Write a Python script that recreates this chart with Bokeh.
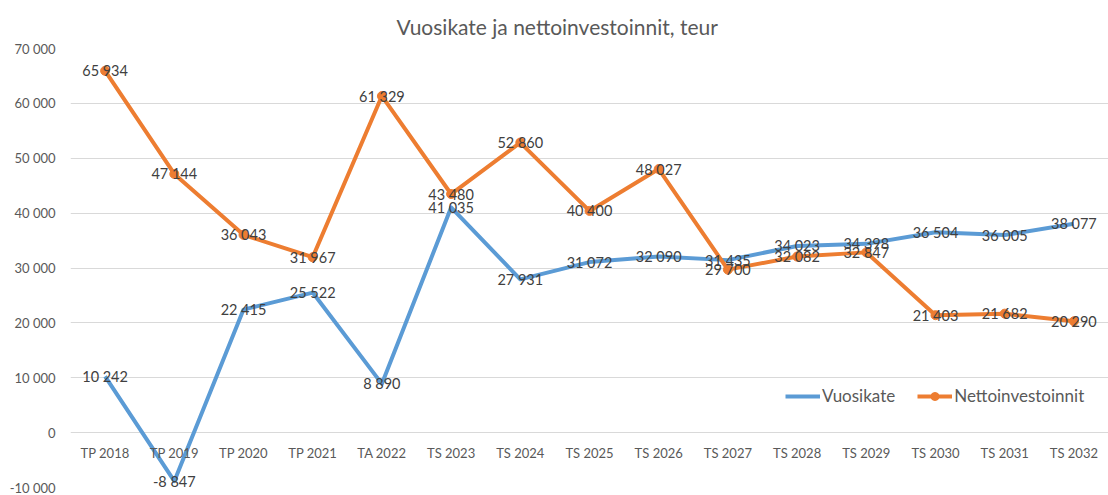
from bokeh.plotting import figure
from bokeh.models import ColumnDataSource, FactorRange, Range1d, FixedTicker, Legend, LegendItem
from bokeh.core.properties import value
from bokeh.embed import file_html
from bokeh.resources import INLINE

categories = ["TP 2018", "TP 2019", "TP 2020", "TP 2021", "TA 2022", "TS 2023", "TS 2024",
              "TS 2025", "TS 2026", "TS 2027", "TS 2028", "TS 2029", "TS 2030", "TS 2031", "TS 2032"]
vuosikate = [10242, -8847, 22415, 25522, 8890, 41035, 27931, 31072, 32090, 31435,
             34023, 34398, 36504, 36005, 38077]
nettoinvestoinnit = [65934, 47144, 36043, 31967, 61329, 43480, 52860, 40400, 48027, 29700,
                     32082, 32847, 21403, 21682, 20290]
y_ticks = [-10000, 0, 10000, 20000, 30000, 40000, 50000, 60000, 70000]
y_tick_labels = ["-10 000", "0", "10 000", "20 000", "30 000", "40 000", "50 000", "60 000", "70 000"]
title_text = "Vuosikate ja nettoinvestoinnit, teur"

BLUE = "#5B9BD5"
ORANGE = "#ED7D31"
FONT = "Lato"


def fmt(v):
    return f"{v:,}".replace(",", "\u202f")


src = ColumnDataSource(dict(
    x=categories,
    v=vuosikate,
    n=nettoinvestoinnit,
    vl=[fmt(v) for v in vuosikate],
    nl=[fmt(v) for v in nettoinvestoinnit],
))

p = figure(width=1108, height=495, x_range=FactorRange(*categories),
           y_range=Range1d(-10000, 70000), output_backend="svg", toolbar_location=None,
           min_border_left=70, min_border_right=0, min_border_top=48, min_border_bottom=8)

p.title.text = title_text
p.title.align = "left"
p.title.offset = 326
p.title.text_font = FONT
p.title.text_font_size = "21px"
p.title.text_font_style = "normal"
p.title.text_color = "#595959"
p.title.padding = dict(left=0, right=0, top=0, bottom=10)
p.title.standoff = 0

p.outline_line_color = None
p.background_fill_color = "white"
p.border_fill_color = "white"

# grid
p.xgrid.visible = False
p.ygrid.grid_line_color = "#d9d9d9"
p.ygrid.grid_line_width = 1
p.ygrid.ticker = FixedTicker(ticks=y_ticks)

# y axis
p.yaxis.ticker = FixedTicker(ticks=y_ticks)
p.yaxis.major_label_overrides = {t: l for t, l in zip(y_ticks, y_tick_labels)}
p.yaxis.axis_line_color = None
p.yaxis.major_tick_line_color = None
p.yaxis.minor_tick_line_color = None
p.yaxis.major_label_text_font = FONT
p.yaxis.major_label_text_font_size = "13px"
p.yaxis.major_label_text_color = "#595959"
p.yaxis.major_label_standoff = 9

# x axis at zero
p.xaxis.fixed_location = 0
p.xaxis.axis_line_color = None
p.xaxis.major_tick_line_color = None
p.xaxis.minor_tick_line_color = None
p.xaxis.major_label_text_font = FONT
p.xaxis.major_label_text_font_size = "13px"
p.xaxis.major_label_text_color = "#595959"
p.xaxis.major_label_standoff = 6

r_v = p.line("x", "v", source=src, line_color=BLUE, line_width=4, line_join="round")
r_n = p.line("x", "n", source=src, line_color=ORANGE, line_width=4, line_join="round")
r_nm = p.scatter("x", "n", source=src, marker="circle", size=9, fill_color=ORANGE, line_color=ORANGE)

lab_kw = dict(text_font=value(FONT), text_font_size="14.5px", text_color="#404040",
              text_align="center", text_baseline="middle")
p.text("x", "v", text="vl", source=src, **lab_kw)
p.text("x", "n", text="nl", source=src, **lab_kw)

legend = Legend(items=[LegendItem(label="Vuosikate", renderers=[r_v]),
                       LegendItem(label="Nettoinvestoinnit", renderers=[r_n, r_nm])],
                orientation="horizontal", location=(715, 81))
legend.border_line_color = None
legend.background_fill_alpha = 0
legend.label_text_font = FONT
legend.label_text_font_size = "17px"
legend.label_text_color = "#595959"
legend.glyph_width = 35
legend.label_standoff = 2
legend.spacing = 22
legend.padding = 0
legend.margin = 0
p.add_layout(legend, "center")

open("out.html", "w").write(file_html(p, INLINE))
